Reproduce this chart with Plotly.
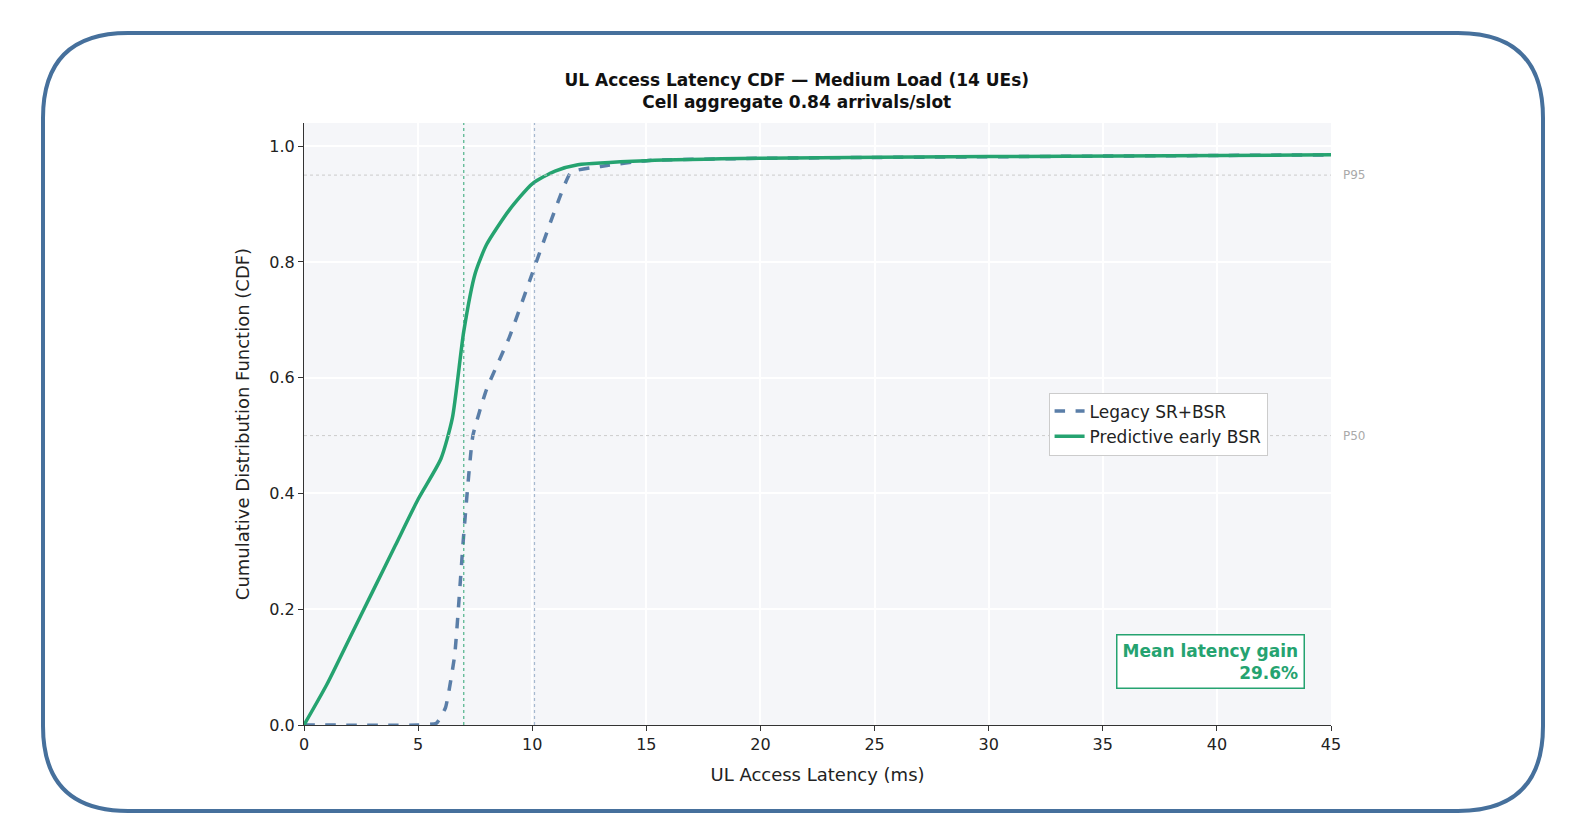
import plotly.graph_objects as go

# Data
pred_x = [0, 1, 2, 3, 4, 5, 6, 6.5, 7, 7.5, 8, 9, 10, 11, 12, 15, 20, 30, 45]
pred_y = [0, 0.07, 0.15, 0.23, 0.31, 0.39, 0.46, 0.53, 0.68, 0.78, 0.83, 0.89, 0.935, 0.957, 0.968, 0.975, 0.979, 0.982, 0.985]
leg_x = [0, 5.0, 5.8, 6.2, 6.6, 7.0, 7.4, 8, 9, 10, 11, 11.7, 13, 15, 20, 45]
leg_y = [0, 0, 0.003, 0.03, 0.12, 0.33, 0.5, 0.58, 0.67, 0.78, 0.89, 0.955, 0.965, 0.975, 0.979, 0.985]
p50_legacy = 10.1
p50_pred = 7.0
gain_pct = 29.6

GREEN = "#25a370"
BLUE = "#5a7ea8"

W, H = 1576, 834
L, R, T, B = 296, 253, 115, 117
pw, ph = W - L - R, H - T - B

def px(x):
    return (x - L) / pw

def py(y):
    return (H - B - y) / ph

fig = go.Figure()
fig.add_trace(go.Scatter(x=leg_x, y=leg_y, mode="lines", name="Legacy SR+BSR",
                         line=dict(color=BLUE, width=3.5, dash="dash", shape="spline", smoothing=0.4)))
fig.add_trace(go.Scatter(x=pred_x, y=pred_y, mode="lines", name="Predictive early BSR",
                         line=dict(color=GREEN, width=3.5, shape="spline", smoothing=0.6)))

# reference lines
for yv, lab in [(0.95, "P95"), (0.5, "P50")]:
    fig.add_hline(y=yv, line=dict(color="#cccccc", width=1, dash="dot"))
    fig.add_annotation(x=1.01, y=yv, xref="paper", yref="y", text=lab, showarrow=False,
                       xanchor="left", font=dict(size=12, color="#aaaaaa"))
fig.add_vline(x=p50_pred, line=dict(color=GREEN, width=1.2, dash="dot"), opacity=0.8)
fig.add_vline(x=p50_legacy, line=dict(color=BLUE, width=1.2, dash="dot"), opacity=0.5)

fig.add_annotation(x=0.975, y=0.105, xref="paper", yref="paper",
                   text="<b>Mean latency gain<br>%.1f%%</b>" % gain_pct, showarrow=False,
                   align="right", xanchor="right", yanchor="middle",
                   font=dict(size=17, color=GREEN), bordercolor=GREEN, borderwidth=1.5,
                   borderpad=5, bgcolor="white")

# rounded frame around the whole picture
x0, x1, y0, y1, r = 35, 1535, 25, 803, 85
path = (f"M {px(x0+r)},{py(y0)} L {px(x1-r)},{py(y0)} Q {px(x1)},{py(y0)} {px(x1)},{py(y0+r)} "
        f"L {px(x1)},{py(y1-r)} Q {px(x1)},{py(y1)} {px(x1-r)},{py(y1)} "
        f"L {px(x0+r)},{py(y1)} Q {px(x0)},{py(y1)} {px(x0)},{py(y1-r)} "
        f"L {px(x0)},{py(y0+r)} Q {px(x0)},{py(y0)} {px(x0+r)},{py(y0)} Z")
fig.add_shape(type="path", path=path, xref="paper", yref="paper",
              line=dict(color="#46709c", width=4))

fig.update_layout(
    width=W, height=H, margin=dict(l=L, r=R, t=T, b=B),
    paper_bgcolor="white", plot_bgcolor="#f5f6f9",
    font=dict(family="DejaVu Sans", size=15, color="#222222"),
    title=dict(text="<b>UL Access Latency CDF — Medium Load (14 UEs)<br>Cell aggregate 0.84 arrivals/slot</b>",
               x=px(810), xanchor="center", y=1 - 78 / H, yanchor="middle", font=dict(size=17, color="#111111")),
    legend=dict(x=0.725, y=py(416), xanchor="left", yanchor="middle", bgcolor="white",
                bordercolor="#cccccc", borderwidth=1, font=dict(size=17)),
    showlegend=True,
)
fig.update_xaxes(range=[0, 45], dtick=5, title_text="UL Access Latency (ms)",
                 showgrid=True, gridcolor="white", gridwidth=1.5, zeroline=False,
                 showline=True, linecolor="#333333", ticks="outside", tickcolor="#333333",
                 title_font=dict(size=18), tickfont=dict(size=16))
fig.update_yaxes(range=[0, 1.04], tickvals=[0, 0.2, 0.4, 0.6, 0.8, 1.0], tickformat=".1f",
                 title_text="Cumulative Distribution Function (CDF)",
                 showgrid=True, gridcolor="white", gridwidth=1.5, zeroline=False,
                 showline=True, linecolor="#333333", ticks="outside", tickcolor="#333333",
                 title_font=dict(size=18), tickfont=dict(size=16))

fig.write_html("out.html")
